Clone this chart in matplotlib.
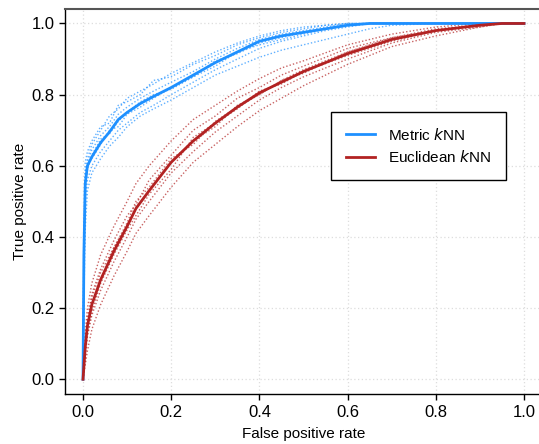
import numpy as np
import matplotlib
matplotlib.use("Agg")
from matplotlib import pyplot as plt

# ============================================================================
# ROC curves: metric vs euclidean kNN, mean curve plus per-fold curves
# ============================================================================

# Metric kNN: shared FPR grid, mean TPR and per-fold TPR
fprMetric = [0, 0.002, 0.005, 0.01, 0.02, 0.04, 0.06, 0.08, 0.1, 0.13, 0.16, 0.2,
             0.25, 0.3, 0.35, 0.4, 0.45, 0.5, 0.55, 0.6, 0.65, 0.7, 0.8, 0.9, 1.0]
tprMetricMean = [0, 0.35, 0.55, 0.60, 0.625, 0.665, 0.695, 0.73, 0.75, 0.775, 0.795, 0.82,
                 0.855, 0.89, 0.92, 0.95, 0.965, 0.975, 0.985, 0.995, 1.0, 1.0, 1.0, 1.0, 1.0]
tprMetricFolds = [
    [0, 0.32, 0.56, 0.62, 0.66, 0.70, 0.74, 0.76, 0.79, 0.81, 0.83, 0.86, 0.89, 0.92, 0.945, 0.965, 0.98, 0.99, 0.995, 1, 1, 1, 1, 1, 1],
    [0, 0.42, 0.61, 0.64, 0.67, 0.71, 0.72, 0.77, 0.78, 0.80, 0.84, 0.85, 0.885, 0.91, 0.94, 0.96, 0.975, 0.985, 0.995, 1, 1, 1, 1, 1, 1],
    [0, 0.22, 0.42, 0.53, 0.58, 0.62, 0.655, 0.68, 0.71, 0.74, 0.76, 0.785, 0.82, 0.855, 0.88, 0.905, 0.925, 0.94, 0.955, 0.97, 0.985, 0.995, 1, 1, 1],
    [0, 0.36, 0.54, 0.60, 0.62, 0.66, 0.70, 0.71, 0.745, 0.765, 0.79, 0.82, 0.85, 0.88, 0.92, 0.94, 0.955, 0.97, 0.985, 0.995, 1, 1, 1, 1, 1],
    [0, 0.30, 0.50, 0.56, 0.60, 0.64, 0.67, 0.70, 0.72, 0.75, 0.77, 0.80, 0.835, 0.87, 0.90, 0.93, 0.95, 0.965, 0.98, 0.99, 1, 1, 1, 1, 1],
    [0, 0.38, 0.58, 0.61, 0.645, 0.685, 0.71, 0.745, 0.765, 0.79, 0.81, 0.835, 0.865, 0.90, 0.93, 0.955, 0.97, 0.98, 0.99, 1, 1, 1, 1, 1, 1],
    [0, 0.34, 0.52, 0.59, 0.63, 0.675, 0.69, 0.725, 0.75, 0.78, 0.80, 0.815, 0.85, 0.895, 0.915, 0.945, 0.96, 0.975, 0.985, 0.995, 1, 1, 1, 1, 1],
]

# Euclidean kNN: shared FPR grid, mean TPR and per-fold TPR
fprEuclid = [0, 0.005, 0.01, 0.02, 0.04, 0.07, 0.1, 0.12, 0.15, 0.2, 0.25, 0.3,
             0.35, 0.4, 0.45, 0.5, 0.6, 0.7, 0.8, 0.9, 0.95, 1.0]
tprEuclidMean = [0, 0.09, 0.15, 0.21, 0.28, 0.36, 0.43, 0.48, 0.53, 0.61, 0.67, 0.72,
                 0.765, 0.805, 0.835, 0.865, 0.915, 0.955, 0.98, 0.995, 1.0, 1.0]
tprEuclidFolds = [
    [0, 0.13, 0.20, 0.27, 0.35, 0.43, 0.50, 0.55, 0.60, 0.67, 0.73, 0.77, 0.81, 0.845, 0.875, 0.895, 0.94, 0.97, 0.99, 1, 1, 1],
    [0, 0.04, 0.08, 0.14, 0.21, 0.29, 0.36, 0.41, 0.46, 0.54, 0.61, 0.66, 0.71, 0.755, 0.79, 0.825, 0.885, 0.935, 0.965, 0.99, 1, 1],
    [0, 0.10, 0.17, 0.24, 0.31, 0.39, 0.46, 0.49, 0.56, 0.63, 0.70, 0.74, 0.79, 0.82, 0.855, 0.88, 0.93, 0.96, 0.985, 0.995, 1, 1],
    [0, 0.06, 0.12, 0.18, 0.25, 0.33, 0.40, 0.45, 0.50, 0.58, 0.64, 0.695, 0.74, 0.785, 0.82, 0.85, 0.90, 0.945, 0.975, 0.99, 1, 1],
    [0, 0.11, 0.16, 0.23, 0.30, 0.37, 0.44, 0.50, 0.54, 0.62, 0.66, 0.725, 0.765, 0.80, 0.84, 0.87, 0.92, 0.955, 0.98, 0.995, 1, 1],
    [0, 0.08, 0.13, 0.19, 0.27, 0.35, 0.42, 0.46, 0.52, 0.59, 0.68, 0.72, 0.76, 0.81, 0.83, 0.865, 0.91, 0.95, 0.98, 0.998, 1, 1],
    [0, 0.09, 0.15, 0.21, 0.28, 0.37, 0.43, 0.48, 0.53, 0.61, 0.67, 0.71, 0.77, 0.80, 0.84, 0.86, 0.92, 0.96, 0.98, 0.995, 1, 1],
]

ticks = [0.0, 0.2, 0.4, 0.6, 0.8, 1.0]
tickLabels = ["0.0", "0.2", "0.4", "0.6", "0.8", "1.0"]

blue = "#1E90FF"
red = "#B22222"

plt.rcParams['font.family'] = ['Liberation Sans', 'DejaVu Sans']

fig = plt.figure(figsize=(5.39, 4.44), dpi=100)
ax = fig.add_axes([0.1213, 0.1137, 0.8836, 0.8655])

# per-fold dotted curves
for fold in tprMetricFolds:
    ax.plot(fprMetric, fold, color=blue, lw=1.0, ls=(0, (1, 1.5)), alpha=0.7)
for fold in tprEuclidFolds:
    ax.plot(fprEuclid, fold, color=red, lw=1.0, ls=(0, (1, 1.5)), alpha=0.7)

# mean curves
ax.plot(fprMetric, tprMetricMean, color=blue, lw=2.0, label="Metric $k$NN")
ax.plot(fprEuclid, tprEuclidMean, color=red, lw=2.0, label="Euclidean $k$NN")

ax.set_xlim(-0.04, 1.04)
ax.set_ylim(-0.04, 1.04)
ax.set_xticks(ticks)
ax.set_xticklabels(tickLabels)
ax.set_yticks(ticks)
ax.set_yticklabels(tickLabels)
ax.tick_params(direction="out", length=4.5, width=1, labelsize=12, colors="black")
ax.grid(True, color="#dddddd", ls=(0, (1, 2)), lw=0.9)
ax.set_axisbelow(True)

for side in ["left", "bottom"]:
    ax.spines[side].set_color("black")
    ax.spines[side].set_linewidth(1.0)
ax.spines["top"].set_color("#555555")
ax.spines["top"].set_linewidth(1.5)
ax.spines["right"].set_visible(False)

ax.set_xlabel("False positive rate", fontsize=11, labelpad=5)
ax.set_ylabel("True positive rate", fontsize=11, labelpad=3)

leg = ax.legend(loc="upper left", bbox_to_anchor=(0.558, 0.7325), fontsize=11,
                frameon=True, fancybox=False, edgecolor="black", framealpha=1,
                handlelength=1.9, borderpad=0.95, labelspacing=0.45, handletextpad=0.9,
                borderaxespad=0)
leg.get_frame().set_linewidth(1.0)

fig.savefig("out.png", dpi=100)
